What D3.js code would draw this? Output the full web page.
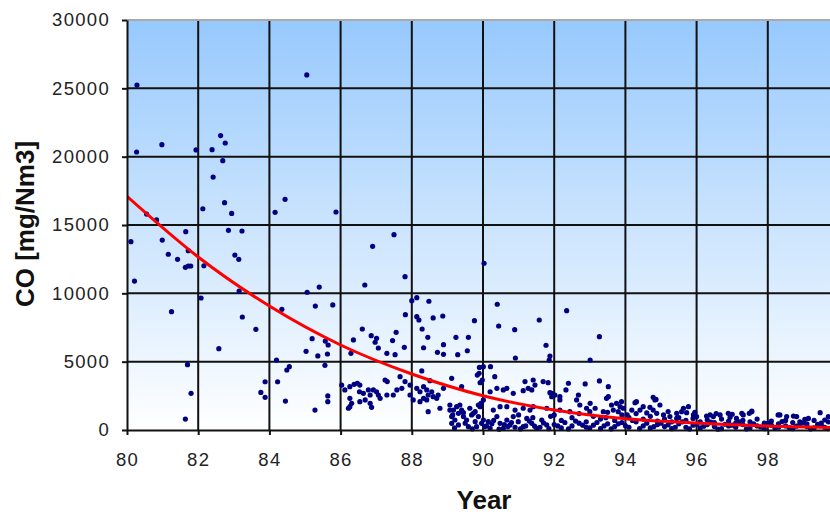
<!DOCTYPE html>
<html>
<head>
<meta charset="utf-8">
<script src="https://cdn.jsdelivr.net/npm/d3@7"></script>
<style>
    body { margin: 0; background: #fff; }
    svg { display: block; }
    .tick text { font-family: "Liberation Sans", Arial, sans-serif; font-size: 18.5px; letter-spacing: 1.3px; fill: #222; }
    .title { font-family: "Liberation Sans", Arial, sans-serif; font-size: 26px; font-weight: bold; fill: #111; }
</style>
</head>
<body>
<div id="chart"></div>
<script>
// measured CO values, [year, mg/Nm3]
var points = [
    [80.28,25240],[80.27,20340],[80.98,20880],[81.94,20490],[82.39,20510],[82.63,21540],[82.76,21000],[82.69,19710],[82.42,18510],
    [80.55,15800],[80.83,15370],[80.11,13780],[80.21,10900],[80.99,13900],[81.16,12860],[81.42,12490],[81.65,14510],[81.72,13120],
    [81.64,11900],[81.72,12000],[81.79,12000],[82.13,16190],[82.16,12020],[82.08,9660],[81.25,8660],[82.58,5950],[81.7,4780],
    [81.8,2680],[81.64,800],[82.74,16630],[82.94,15850],[82.85,14610],[83.23,14560],[83.03,12800],[83.14,12490],[83.15,10170],
    [83.24,8270],[83.62,7370],[83.88,3530],[83.76,2750],[83.88,2390],[84.2,5120],[84.23,3530],[84.16,15930],[85.05,25980],
    [84.44,16880],[85.87,15950],
    [87.5,14290],[86.9,13440],[87.81,11220],[86.68,10610],[90.03,12200],[85.06,10080],[85.4,10460],[85.29,9070],[85.78,9150],
    [84.35,8830],[90.4,9200],[90.44,7610],[90.89,7340],[91.58,8050],[91.77,6200],[91.86,5120],
    [88.0,9460],[88.14,9680],[88.48,9420],[87.82,8440],[88.14,8290],[88.2,8050],[88.6,8200],[88.87,8340],[88.29,7390],[88.45,6780],
    [88.33,6020],[88.72,5680],[88.89,6240],[88.89,5540],[89.24,6780],[89.59,6780],[89.29,5510],[89.56,5800],[89.76,8000],
    [86.61,7390],[86.86,6900],[87.01,6710],[86.97,6420],[87.06,6000],[87.3,5610],[87.53,5510],[87.46,6540],[87.56,7150],[87.79,6050],
    [86.36,6590],[86.29,5610],[85.2,6680],[85.03,5760],[85.36,5420],[85.63,5560],[85.56,4730],[85.65,6220],[85.57,6510],
    [84.49,4390],[84.56,4630],[84.45,2120],[85.28,1460],[85.64,2490],[85.64,2070],
    [90.91,5270],[90.01,4630],[89.9,4580],[90.21,4630],[89.89,4150],[90.33,3900],[89.92,3460],[89.84,4020],
    [86.03,3290],[86.12,2930],[86.26,3170],[86.38,3340],[86.47,3420],[86.54,3290],[86.53,2800],[86.64,2680],[86.78,2930],[86.83,2560],
    [86.92,2930],[87.01,2800],[87.06,2560],[87.11,2320],[87.25,3660],[87.31,3540],[87.3,2560],[87.48,2560],[87.58,2930],[87.67,3900],
    [87.72,3050],[87.81,3540],[87.95,3290],[87.95,2560],[88.04,2200],[88.14,3050],[88.23,2800],[88.33,3170],[88.42,2930],[88.46,2560],
    [88.56,2800],[88.6,2440],[88.7,2320],[88.74,2560],[86.26,2320],[86.31,1950],[86.22,1590],[86.54,2070],[86.69,2200],[86.83,1950],
    [86.87,1660],[86.26,1710],[88.23,2070],[88.33,2320],[88.46,1340],[88.42,2200],[88.28,4320],[88.51,3610],[88.79,1590],[89.07,1830],
    [89.17,1460],[89.12,980],[89.21,730],[89.31,1220],[89.4,1460],[89.45,980],[89.54,730],[89.63,1590],[89.68,1100],[89.78,1340],
    [89.87,980],[89.92,1710],[89.94,1950],[89.12,3780],[89.4,3170],[88.89,3050],
    [91.88,5410],[93.27,6830],[93.01,5120],[89.98,3660],[91.18,3540],[91.41,3660],[91.46,3290],[91.69,3540],[91.83,3460],[92.4,3420],
    [92.87,3370],[93.27,3590],[93.52,3170],[90.2,2800],[90.39,3050],[90.57,2930],[90.67,3050],[90.85,2680],[91.13,2880],[91.27,3050],
    [91.37,2930],[91.88,2730],[91.93,2440],[92.16,2440],[92.33,2930],[92.68,2560],[92.63,2200],[93.01,1950],[93.47,2320],[93.75,1950],
    [93.89,2070],[94.31,2070],[94.78,2390],[94.83,2200],[90.01,2200],[90.29,1460],[90.48,1710],[90.67,1710],[90.9,1460],[91.13,1590],
    [91.32,1460],[91.41,1710],[91.79,1590],[92.16,1460],[92.44,1340],[92.72,1830],[92.91,1590],[93.15,1590],[93.38,1340],[93.66,1460],
    [93.94,1590],[94.18,1460],[94.41,1460],[94.69,1660],
    [92.35,8730],[94.97,1830],[94.27,2000],[94.5,1710],[95.63,1590],[95.77,1710],[95.44,1220],[96.0,980],[96.38,1100],[96.89,1220],
    [97.27,1220],[97.55,1340],[98.34,1100],[98.81,980],[99.47,1270],[99.14,850],
    [94.86,2240],[95.58,1340],[95.72,1270],[95.91,1100],[96.28,1020],[96.47,980],[96.66,1100],[96.94,930],[97.12,850],[97.31,1100],
    [97.48,1220],[97.55,1390],[98.29,1100],[98.53,980],[98.72,1020],[99.04,780],[99.6,730],[99.7,980],[94.78,1460],[94.88,1220],
    [95.07,1100],[95.25,980],[95.44,850],
    [93.0,1340],[93.52,2440],[93.61,1830],[93.85,1710],[93.8,1340],[91.93,2680],[92.02,2560],[92.16,2200],
    [89.07,1460],[89.15,1100],[89.26,1710],[89.35,1830],[89.45,1270],[89.73,1220],[89.78,610],[89.87,1830],[89.96,490],[89.12,490],
    [89.31,370],[89.59,240],[89.82,240],[90.01,730],[90.15,610],[90.2,120],[90.39,980],[90.48,490],[90.57,120],[90.67,730],
    [90.76,370],[90.85,980],[90.99,610],[91.13,240],[91.23,850],[91.37,490],[91.51,120],[91.65,730],[91.79,370],
    [90.1,300],[90.3,700],[90.6,400],[90.9,200],[91.0,1100],[91.2,300],[91.4,900],[91.6,200],[91.9,1000],
    [92.0,1100],[92.0,400],[92.2,700],[92.2,150],[92.5,900],[92.5,300],[92.7,1200],[92.7,500],[92.9,600],[92.9,200],
    [93.1,1000],[93.1,350],[93.3,800],[93.3,100],[93.5,1300],[93.5,450],[93.7,700],[93.7,250],[93.9,1100],[93.9,550],
    [94.1,900],[94.1,200],[94.3,1200],[94.3,600],[94.5,800],[94.5,300],[94.7,1000],[94.7,150],[94.9,650],[94.9,400],
    [95.1,800],[95.1,250],[95.3,600],[95.3,100],[95.5,900],[95.5,450],[95.7,700],[95.7,200],[95.9,850],[95.9,350],
    [96.1,600],[96.1,150],[96.3,750],[96.3,400],[96.5,550],[96.5,250],[96.7,800],[96.7,100],[96.9,650],[96.9,300],
    [97.1,500],[97.1,200],[97.3,700],[97.3,400],[97.5,600],[97.5,150],[97.7,800],[97.7,300],[97.9,500],[97.9,100],
    [98.1,650],[98.1,350],[98.3,450],[98.3,200],[98.5,700],[98.5,300],[98.7,550],[98.7,100],[98.9,600],[98.9,400],
    [99.1,450],[99.1,250],[99.3,700],[99.3,150],[99.5,500],[99.5,350],[99.7,600],[99.7,100],[99.9,400],[99.9,250],
    // dense floor of the later years
    [89.2,150],[89.5,500],[89.7,80],[90.05,250],[90.25,450],[90.45,60],[90.7,250],[90.8,550],[91.05,80],[91.3,650],
    [91.45,280],[91.7,520],[91.85,100],[92.1,300],[92.3,550],[92.4,80],[92.6,650],[92.8,350],[93.0,150],[93.2,550],
    [93.4,300],[93.6,80],[93.8,450],[94.0,320],[94.2,700],[94.4,100],[94.6,500],[94.8,250],[95.0,500],[95.2,380],
    [95.4,200],[95.6,600],[95.8,80],[96.0,420],[96.2,280],[96.4,580],[96.6,60],[96.8,420],[97.0,350],[97.2,600],
    [97.4,80],[97.6,450],[97.8,220],[98.0,480],[98.2,150],[98.4,620],[98.6,180],[98.8,280],[99.0,520],[99.2,80],
    [99.4,420],[99.6,200],[99.8,550],[93.45,900],[94.05,1100],[94.6,1250],[95.2,1350],[95.95,1300],[96.55,1200],[97.0,1150]
];

// trend line
var trendYear = [80, 82, 84, 86, 88, 90, 92, 94, 96, 98, 100];
var trendCO = [17100, 12660, 9070, 6220, 4100, 2510, 1460, 820, 510, 290, 180];

var xTicks = [80, 82, 84, 86, 88, 90, 92, 94, 96, 98];
var yTicks = [0, 5000, 10000, 15000, 20000, 25000, 30000];

function drawChart() {
    var width = 830, height = 514;
    var plotLeft = 127, plotRight = 839, plotTop = 20, plotBottom = 430;

    var svg = d3.select('#chart').append('svg')
        .attr('width', width)
        .attr('height', height);

    var x = d3.scaleLinear().domain([80, 100]).range([plotLeft, plotRight]);
    var y = d3.scaleLinear().domain([0, 30000]).range([plotBottom, plotTop]);

    var defs = svg.append('defs');
    var grad = defs.append('linearGradient')
        .attr('id', 'bg')
        .attr('x1', 0).attr('y1', 0).attr('x2', 0).attr('y2', 1);
    grad.append('stop').attr('offset', '0%').attr('stop-color', '#97c9fd');
    grad.append('stop').attr('offset', '100%').attr('stop-color', '#ffffff');

    defs.append('clipPath').attr('id', 'plot-clip')
        .append('rect')
        .attr('x', plotLeft).attr('y', plotTop - 2)
        .attr('width', plotRight - plotLeft).attr('height', plotBottom - plotTop + 4);

    svg.append('rect')
        .attr('x', plotLeft).attr('y', plotTop)
        .attr('width', plotRight - plotLeft).attr('height', plotBottom - plotTop)
        .attr('fill', 'url(#bg)');

    var plot = svg.append('g').attr('clip-path', 'url(#plot-clip)');

    // grid
    plot.selectAll('line.vgrid')
        .data(xTicks.slice(1).concat([100]))
        .enter().append('line')
        .attr('class', 'vgrid')
        .attr('x1', function(d) { return x(d); })
        .attr('x2', function(d) { return x(d); })
        .attr('y1', plotTop).attr('y2', plotBottom)
        .attr('stroke', '#111').attr('stroke-width', 2);

    plot.selectAll('line.hgrid')
        .data(yTicks.slice(1, -1))
        .enter().append('line')
        .attr('class', 'hgrid')
        .attr('x1', plotLeft).attr('x2', plotRight)
        .attr('y1', function(d) { return y(d); })
        .attr('y2', function(d) { return y(d); })
        .attr('stroke', '#111').attr('stroke-width', 2);

    plot.append('line')
        .attr('x1', plotLeft).attr('x2', plotRight)
        .attr('y1', y(30000)).attr('y2', y(30000))
        .attr('stroke', '#aaa').attr('stroke-width', 2);

    // points
    plot.selectAll('circle.pt')
        .data(points)
        .enter().append('circle')
        .attr('class', 'pt')
        .attr('cx', function(d) { return x(d[0]); })
        .attr('cy', function(d) { return y(d[1]); })
        .attr('r', 2.6)
        .attr('fill', '#000080');

    // trend
    var line = d3.line()
        .x(function(d, i) { return x(trendYear[i]); })
        .y(function(d) { return y(d); })
        .curve(d3.curveMonotoneX);

    plot.append('path')
        .datum(trendCO)
        .attr('d', line)
        .attr('fill', 'none')
        .attr('stroke', '#ff0000')
        .attr('stroke-width', 3);

    // axes
    var yAxis = svg.append('g')
        .attr('transform', 'translate(' + plotLeft + ',0)')
        .call(d3.axisLeft(y).tickValues(yTicks).tickSize(5).tickSizeOuter(0).tickPadding(12).tickFormat(d3.format('d')));

    var xAxis = svg.append('g')
        .attr('transform', 'translate(0,' + plotBottom + ')')
        .call(d3.axisBottom(x).tickValues(xTicks).tickSize(5).tickSizeOuter(0).tickPadding(18).tickFormat(d3.format('d')));

    [yAxis, xAxis].forEach(function(a) {
        a.select('.domain').attr('stroke', '#111').attr('stroke-width', 2);
        a.selectAll('.tick line').attr('stroke', '#111').attr('stroke-width', 2);
    });

    svg.append('text')
        .attr('class', 'title')
        .attr('x', 484).attr('y', 509)
        .attr('text-anchor', 'middle')
        .text('Year');

    svg.append('text')
        .attr('class', 'title')
        .attr('transform', 'translate(34,224) rotate(-90)')
        .attr('text-anchor', 'middle')
        .text('CO [mg/Nm3]');
}

drawChart();
</script>
</body>
</html>
